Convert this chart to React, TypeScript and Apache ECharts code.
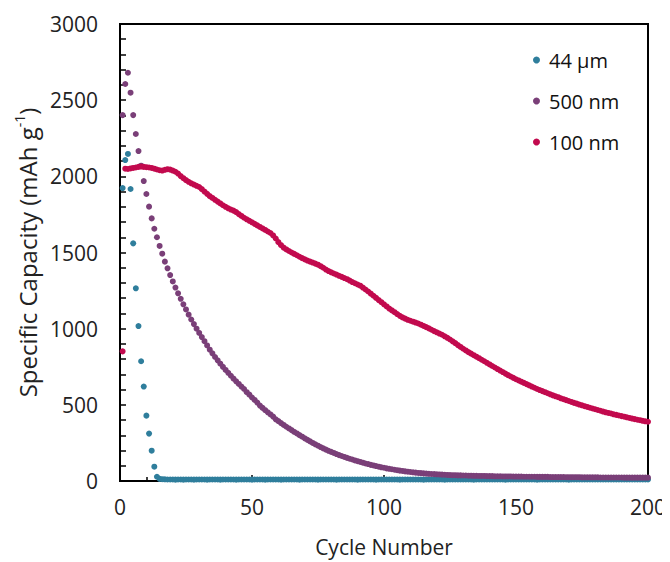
import React, { useEffect, useRef } from "react";
import * as echarts from "echarts";

const seriesNames = ["44 µm", "500 nm", "100 nm"];
const seriesColors = ["#2F7E9C", "#7A3F78", "#C20A4E"];

const blue44um = [
  1923, 2107, 2147, 1917, 1560, 1265, 1017, 786, 620, 429,
  311, 199, 94, 28, 14, 12, 11, 10, 10, 10,
  9, 10, 10, 9, 10, 10, 10, 9, 10, 10,
  10, 10, 9, 10, 10, 10, 10, 9, 10, 10,
  10, 10, 10, 9, 10, 10, 10, 10, 10, 9,
  10, 10, 10, 10, 9, 10, 10, 10, 10, 10,
  9, 10, 10, 10, 10, 10, 10, 9, 10, 10,
  10, 10, 10, 10, 9, 10, 10, 10, 10, 10,
  10, 9, 10, 10, 10, 10, 10, 10, 10, 9,
  10, 10, 10, 10, 10, 10, 9, 10, 10, 10,
  10, 10, 10, 10, 10, 9, 10, 10, 10, 10,
  10, 10, 10, 10, 9, 10, 10, 10, 10, 10,
  10, 10, 9, 10, 10, 10, 10, 10, 10, 10,
  10, 10, 10, 9, 10, 10, 10, 10, 10, 10,
  10, 10, 10, 10, 10, 9, 10, 10, 10, 10,
  10, 10, 10, 10, 10, 10, 10, 9, 10, 10,
  10, 10, 10, 10, 10, 10, 10, 10, 10, 9,
  10, 10, 10, 10, 10, 10, 10, 10, 10, 10,
  10, 10, 10, 10, 10, 10, 10, 10, 10, 10,
  10, 10, 10, 10, 10, 10, 10, 10, 10, 10,
];

const purple500nm = [
  2402, 2606, 2680, 2549, 2402, 2278, 2166, 2070, 1969, 1884,
  1801, 1724, 1656, 1600, 1543, 1492, 1440, 1396, 1352, 1310,
  1270, 1232, 1196, 1160, 1126, 1092, 1060, 1030, 1000, 972,
  945, 918, 890, 862, 838, 814, 792, 770, 749, 729,
  710, 691, 672, 654, 637, 620, 604, 583, 567, 548,
  532, 515, 495, 480, 465, 451, 437, 423, 405, 393,
  380, 368, 356, 345, 334, 322, 312, 301, 291, 280,
  270, 260, 250, 241, 232, 223, 214, 206, 198, 191,
  184, 177, 170, 164, 158, 152, 146, 141, 135, 130,
  125, 120, 115, 111, 106, 102, 98, 94, 90, 87,
  83, 80, 77, 74, 71, 68, 66, 63, 61, 59,
  57, 55, 53, 52, 50, 49, 47, 46, 45, 44,
  43, 42, 41, 40, 39, 38, 38, 37, 37, 36,
  36, 35, 35, 34, 34, 33, 33, 33, 32, 32,
  32, 31, 31, 31, 30, 30, 30, 30, 29, 29,
  29, 29, 28, 28, 28, 28, 28, 27, 27, 27,
  27, 27, 26, 26, 26, 26, 26, 26, 25, 25,
  25, 25, 25, 25, 24, 24, 24, 24, 24, 24,
  24, 23, 23, 23, 23, 23, 23, 23, 23, 23,
  22, 22, 22, 22, 22, 22, 22, 22, 22, 22,
];

const red100nm = [
  851, 2050, 2048, 2052, 2055, 2058, 2062, 2064, 2062, 2060,
  2058, 2055, 2050, 2045, 2040, 2038, 2043, 2047, 2044, 2038,
  2030, 2018, 2002, 1988, 1975, 1964, 1954, 1946, 1938, 1930,
  1916, 1900, 1885, 1870, 1858, 1846, 1834, 1822, 1810, 1800,
  1790, 1782, 1775, 1765, 1752, 1740, 1728, 1718, 1708, 1698,
  1688, 1678, 1668, 1658, 1648, 1638, 1628, 1612, 1592, 1568,
  1548, 1532, 1520, 1510, 1500, 1491, 1482, 1472, 1463, 1455,
  1447, 1440, 1434, 1427, 1420, 1410, 1400, 1388, 1378, 1370,
  1362, 1355, 1347, 1340, 1332, 1325, 1316, 1306, 1298, 1290,
  1282, 1270, 1257, 1244, 1230, 1216, 1202, 1188, 1174, 1160,
  1146, 1132, 1120, 1108, 1096, 1084, 1074, 1066, 1058, 1052,
  1046, 1040, 1034, 1026, 1018, 1010, 1002, 993, 984, 976,
  968, 960, 950, 940, 929, 917, 905, 892, 880, 868,
  857, 846, 836, 826, 816, 806, 796, 786, 776, 765,
  755, 745, 735, 725, 715, 705, 695, 686, 677, 668,
  660, 652, 644, 636, 628, 620, 612, 604, 597, 590,
  583, 576, 569, 562, 556, 550, 543, 537, 531, 525,
  519, 513, 508, 502, 497, 491, 486, 481, 476, 471,
  466, 461, 456, 451, 447, 443, 438, 434, 430, 426,
  422, 418, 414, 410, 406, 402, 399, 395, 392, 389,
];

const xTicks = [0, 50, 100, 150, 200];
const yTicks = [0, 500, 1000, 1500, 2000, 2500, 3000];

const FONT = "'Open Sans', sans-serif";

export default function App() {
  const ref = useRef<HTMLDivElement>(null);
  useEffect(() => {
    if (!ref.current) return;
    const chart = echarts.init(ref.current, undefined, { renderer: "svg" });
    const allSeries = [blue44um, purple500nm, red100nm];
    chart.setOption({
      animation: false,
      backgroundColor: "#fff",
      textStyle: { fontFamily: FONT },
      grid: {
        left: 120,
        right: 22,
        top: 24,
        bottom: 81,
        show: true,
        borderColor: "#000",
        borderWidth: 2,
        backgroundColor: "transparent",
      },
      legend: {
        orient: "vertical",
        left: 528,
        top: 41,
        itemGap: 13,
        itemWidth: 7,
        itemHeight: 7,
        icon: "circle",
        data: seriesNames,
        textStyle: { fontFamily: FONT, fontSize: 20, color: "#111", lineHeight: 28, padding: [0, 0, 0, 4] },
      },
      xAxis: {
        type: "value",
        min: xTicks[0],
        max: xTicks[xTicks.length - 1],
        interval: 50,
        name: "Cycle Number",
        nameLocation: "middle",
        nameGap: 55,
        nameTextStyle: { fontFamily: FONT, fontSize: 21, color: "#222" },
        axisLine: { lineStyle: { color: "#000", width: 2 } },
        axisTick: { inside: true, length: 6, lineStyle: { color: "#000", width: 1.5 } },
        minorTick: { show: true, splitNumber: 5, length: 4, lineStyle: { color: "#000", width: 1.5 } },
        splitLine: { show: false },
        axisLabel: { fontFamily: FONT, fontSize: 21, color: "#222", margin: 15 },
      },
      yAxis: {
        type: "value",
        min: yTicks[0],
        max: yTicks[yTicks.length - 1],
        interval: 500,
        name: "{a|Specific Capacity (mAh g}{s|-1}{a|)}",
        nameLocation: "middle",
        nameGap: 78,
        nameRotate: 90,
        nameTextStyle: {
          rich: {
            a: { fontFamily: FONT, fontSize: 24, color: "#222", lineHeight: 30 },
            s: { fontFamily: FONT, fontSize: 14, color: "#222", verticalAlign: "top", lineHeight: 30, padding: [0, 0, 10, 0] },
          },
        },
        axisLine: { lineStyle: { color: "#000", width: 2 } },
        axisTick: { inside: true, length: 6, lineStyle: { color: "#000", width: 1.5 } },
        minorTick: { show: true, splitNumber: 5, length: 6, lineStyle: { color: "#000", width: 1.5 } },
        splitLine: { show: false },
        axisLabel: { fontFamily: FONT, fontSize: 21, color: "#222", margin: 22, formatter: (v: number) => String(v) },
      },
      series: allSeries.map((vals, si) => ({
        name: seriesNames[si],
        type: "scatter",
        symbol: "circle",
        symbolSize: 6,
        itemStyle: { color: seriesColors[si], opacity: 1 },
        data: vals.map((v, i) => [i + 1, v]),
        z: 2 + si,
      })),
    });
    return () => chart.dispose();
  }, []);
  return <div ref={ref} style={{ width: 670, height: 562, marginLeft: -8, marginTop: -8 }} />;
}
